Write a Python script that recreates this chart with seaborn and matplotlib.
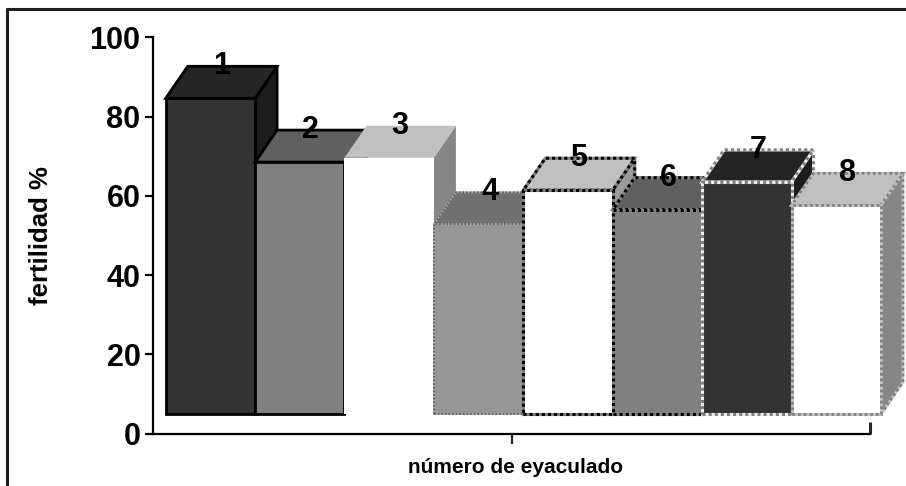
import matplotlib
matplotlib.use("Agg")
import matplotlib.pyplot as plt
import numpy as np
import pandas as pd
import seaborn as sns
from matplotlib.patches import Polygon
from matplotlib.lines import Line2D

# Fertility (%) per ejaculate number, read at the front top edge of each column
eyaculado = ["1", "2", "3", "4", "5", "6", "7", "8"]
fertilidad = [84.6, 68.5, 69.6, 52.8, 61.4, 56.5, 63.5, 57.6]
piso = 4.9  # level of the column floor on the value axis
y_ticks = [0, 20, 40, 60, 80, 100]

# Face shading of each 3-D column
color_frente = ["#333333", "#808080", "#ffffff", "#969696", "#ffffff", "#808080", "#333333", "#ffffff"]
color_tapa = ["#262626", "#606060", "#c0c0c0", "#707070", "#c0c0c0", "#606060", "#232323", "#c0c0c0"]
color_lado = ["#1c1c1c", "#404040", "#868686", "#5a5a5a", "#9a9a9a", "#404040", "#1c1c1c", "#868686"]
# Outline: solid base colour plus optional dotted overlay
borde_base = ["#000000", "#000000", "none", "#a8a8a8", "#808080", "#808080", "#f0f0f0", "#c0c0c0"]
borde_punto = [None, None, None, "#606060", "#000000", "#000000", "#808080", "#808080"]
borde_ancho = [2.0, 2.0, 0.0, 1.3, 2.2, 2.2, 2.2, 2.0]

sns.set_theme(style="white")
plt.rcParams["font.family"] = ["Liberation Sans", "DejaVu Sans"]

W, H = 906, 486
fig = plt.figure(figsize=(W / 100, H / 100), dpi=100)
fig.patch.set_facecolor("white")

ax_left, ax_right, ax_top, ax_bottom = 153, 870, 37.3, 433.5
ax = fig.add_axes([ax_left / W, 1 - ax_bottom / H, (ax_right - ax_left) / W, (ax_bottom - ax_top) / H])
ax.set_facecolor("none")

df = pd.DataFrame({"eyaculado": eyaculado, "fertilidad": fertilidad})
df["altura"] = df["fertilidad"] - piso

sns.barplot(data=df, x="eyaculado", y="altura", hue="eyaculado", order=eyaculado,
            hue_order=eyaculado, palette=color_frente, saturation=1, width=1.0,
            errorbar=None, legend=False, bottom=piso, ax=ax)

ax.set_xlim(-0.642, 7.378)
ax.set_ylim(0, 100)

# depth offset of the columns, given in pixels
inv = ax.transData.inverted()
o = ax.transData.transform((0, 0))
dxd, dyd = inv.transform(o + np.array([22.0, 32.0]))
dxd -= inv.transform(o)[0]
dyd -= inv.transform(o)[1]

bars = sorted(ax.patches, key=lambda p: p.get_x())
for i, p in enumerate(bars):
    x0, y0 = p.get_x(), p.get_y()
    x1, y1 = x0 + p.get_width(), y0 + p.get_height()
    z = 2 + i * 0.1
    lado = [(x1, y0), (x1 + dxd, y0 + dyd), (x1 + dxd, y1 + dyd), (x1, y1)]
    tapa = [(x0, y1), (x1, y1), (x1 + dxd, y1 + dyd), (x0 + dxd, y1 + dyd)]
    frente = [(x0, y0), (x1, y0), (x1, y1), (x0, y1)]
    for k, (pts, fc) in enumerate([(lado, color_lado[i]), (tapa, color_tapa[i])]):
        ax.add_patch(Polygon(pts, closed=True, facecolor=fc, edgecolor=borde_base[i],
                             linewidth=borde_ancho[i], zorder=z + 0.01 * k,
                             clip_on=False, joinstyle="miter"))
        if borde_punto[i]:
            ax.add_patch(Polygon(pts, closed=True, fill=False, edgecolor=borde_punto[i],
                                 linewidth=borde_ancho[i], linestyle=(0, (1, 1)),
                                 zorder=z + 0.01 * k + 0.005, clip_on=False))
    p.set_edgecolor(borde_base[i])
    p.set_linewidth(borde_ancho[i])
    p.set_zorder(z + 0.03)
    p.set_clip_on(False)
    p.set_joinstyle("miter")
    if borde_punto[i]:
        ax.add_patch(Polygon(frente, closed=True, fill=False, edgecolor=borde_punto[i],
                             linewidth=borde_ancho[i], linestyle=(0, (1, 1)),
                             zorder=z + 0.035, clip_on=False))
    ax.text(x0 + p.get_width() / 2 + dxd / 2, y1 + dyd, eyaculado[i],
            ha="center", va="center", fontsize=22, fontweight="bold",
            color="black", zorder=10)

# axes styling
for s in ["top", "right"]:
    ax.spines[s].set_visible(False)
for s in ["left", "bottom"]:
    ax.spines[s].set_color("black")
    ax.spines[s].set_linewidth(1.6)
ax.set_yticks(y_ticks)
ax.set_yticklabels([str(t) for t in y_ticks], fontsize=22, fontweight="bold")
ax.tick_params(axis="y", direction="out", length=6, width=1.6, pad=3, colors="black", left=True)
ax.set_xticks([3.374])
ax.set_xticklabels([""])
ax.set_xticks([7.378], minor=True)
ax.tick_params(axis="x", which="major", direction="out", length=7, width=1.6, bottom=True)
ax.tick_params(axis="x", which="minor", direction="in", length=9, width=2.2, bottom=True)

ax.set_ylabel("fertilidad %", fontsize=18.5, fontweight="bold", color="black")
ax.yaxis.set_label_coords(-0.140, 0.5)
ax.set_xlabel("número de eyaculado", fontsize=15, fontweight="bold", color="black")
ax.xaxis.set_label_coords(0.505, -0.062)

# chart frame (top and left edges)
fig.add_artist(Line2D([7 / W, 1.0], [1 - 9 / H, 1 - 9 / H], color="#1e1e1e", linewidth=2.2,
                      transform=fig.transFigure))
fig.add_artist(Line2D([7 / W, 7 / W], [1 - 9 / H, 0.0], color="#1e1e1e", linewidth=2.2,
                      transform=fig.transFigure))

fig.savefig("out.png", dpi=100)
